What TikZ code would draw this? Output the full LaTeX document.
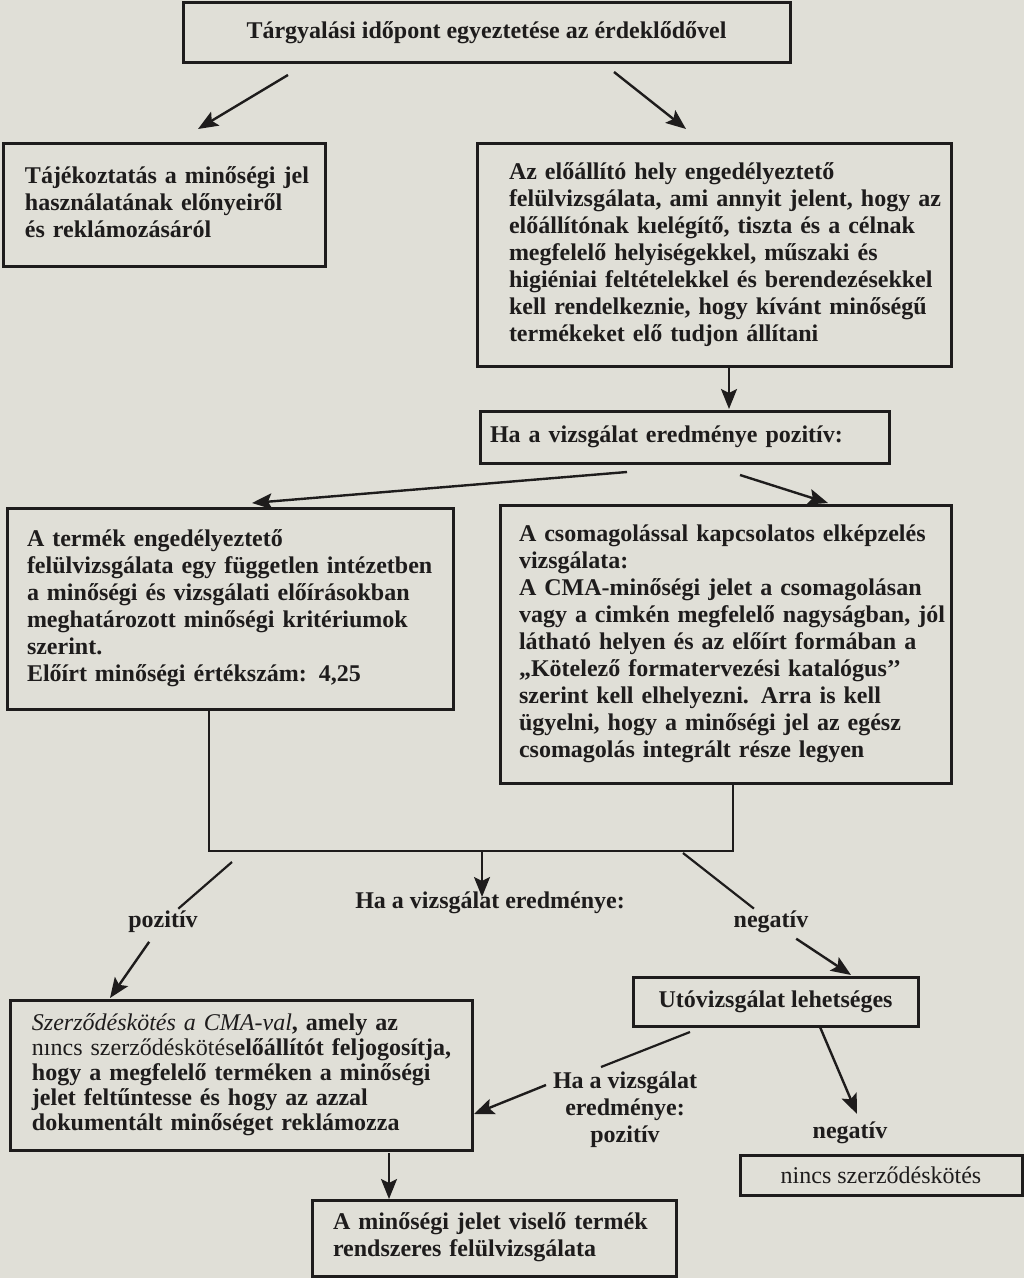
\documentclass[tikz,border=0pt]{standalone}
\usepackage{fontspec}
\setmainfont{Liberation Serif}
\usetikzlibrary{arrows.meta}
\definecolor{paper}{RGB}{224,223,215}
\definecolor{ink}{RGB}{30,28,28}
\newcommand\boxrows[1]{\noindent\begin{tabular}{@{}l@{}}#1\end{tabular}}
\begin{document}
\begin{tikzpicture}[x=0.5pt, y=-0.5pt, font=\fontsize{12}{13.5}\selectfont\bfseries,
  box/.style={draw=ink, text=ink, line width=1.5pt, anchor=north west, outer sep=0pt, inner ysep=0pt, align=left},
  cbox/.style={draw=ink, text=ink, line width=1.5pt, anchor=north west, outer sep=0pt, inner sep=0pt, align=center},
  lbl/.style={text=ink, inner sep=1pt, align=center},
  arr/.style={-{Stealth[length=10pt, width=8pt, inset=2pt]}, draw=ink, line width=1.2pt},
  ln/.style={-, draw=ink, line width=1.1pt}]
\fill[paper] (0,0) rectangle (1024,1278);
\useasboundingbox (0,0) rectangle (1024,1278);
\node[cbox, minimum width=303.5pt, minimum height=30pt] (top) at (183,3) {Tárgyalási időpont egyeztetése az érdeklődővel};
\node[box, minimum height=61.5pt, inner xsep=11pt, text width=139pt] (info) at (3,144) {\boxrows{Tájékoztatás a minőségi jel\\használatának előnyeiről\\és reklámozásáról}};
\node[box, minimum height=111pt, inner xsep=16pt, text width=205pt] (site) at (477,144) {\boxrows{Az előállító hely engedélyeztető\\felülvizsgálata, ami annyit jelent, hogy az\\előállítónak kıelégítő, tiszta és a célnak\\megfelelő helyiségekkel, műszaki és\\higiéniai feltételekkel és berendezésekkel\\kell rendelkeznie, hogy kívánt minőségű\\termékeket elő tudjon állítani}};
\node[box, minimum height=26pt, inner xsep=5pt, text width=194.5pt] (posbox) at (480,411) {\boxrows{Ha a vizsgálat eredménye pozitív:}};
\node[box, minimum height=100.5pt, inner xsep=10pt, text width=203pt] (prod) at (7,508) {\boxrows{A termék engedélyeztető\\felülvizsgálata egy független intézetben\\a minőségi és vizsgálati előírásokban\\meghatározott minőségi kritériumok\\szerint.\\Előírt minőségi értékszám: 4,25}};
\node[box, minimum height=139pt, inner xsep=9.5pt, text width=206.5pt] (pack) at (500,505) {\boxrows{A csomagolással kapcsolatos elképzelés\\vizsgálata:\\A CMA-minőségi jelet a csomagolásan\\vagy a cimkén megfelelő nagyságban, jól\\látható helyen és az előírt formában a\\„Kötelező formatervezési katalógus{'}{'}\\szerint kell elhelyezni. Arra is kell\\ügyelni, hogy a minőségi jel az egész\\csomagolás integrált része legyen}};
\node[lbl] (res1) at (490,903) {Ha a vizsgálat eredménye:};
\node[lbl] (pos1) at (163,922) {pozitív};
\node[lbl] (neg1) at (771,922) {negatív};
\node[cbox, minimum width=142.5pt, minimum height=24.5pt] (retest) at (633,977) {Utóvizsgálat lehetséges};
\node[box, minimum height=75pt, inner xsep=11pt, text width=209pt, font=\fontsize{12}{12.5}\selectfont\bfseries] (contract) at (10,1000) {\boxrows{{\mdseries\itshape Szerződéskötés a CMA-val}, amely az\\{\mdseries nıncs szerződéskötés}előállítót feljogosítja,\\hogy a megfelelő terméken a minőségi\\jelet feltűntesse és hogy az azzal\\dokumentált minőséget reklámozza}};
\node[lbl] (res2) at (625,1110) {Ha a vizsgálat\\eredménye:\\pozitív};
\node[lbl] (neg2) at (850,1133) {negatív};
\node[cbox, minimum width=141pt, minimum height=20pt] (none) at (740,1155) {{\mdseries nincs szerződéskötés}};
\node[box, minimum height=38pt, inner xsep=10.5pt, text width=161pt] (final) at (312,1200) {\boxrows{A minőségi jelet viselő termék\\rendszeres felülvizsgálata}};
% free ends of the connectors
\coordinate (t1) at (288,75); \coordinate (t2) at (198,129);
\coordinate (t3) at (614,72); \coordinate (t4) at (686,129);
\coordinate (s1) at (729,366); \coordinate (s2) at (729,409);
\coordinate (p1) at (627,472); \coordinate (p2) at (252,503);
\coordinate (p3) at (740,475); \coordinate (p4) at (828,503);
\coordinate (u1) at (209,709); \coordinate (u2) at (209,851);
\coordinate (u3) at (733,851); \coordinate (u4) at (733,783);
\coordinate (u5) at (482,851); \coordinate (u6) at (482,897);
\coordinate (l1) at (232,862); \coordinate (l2) at (110,998);
\coordinate (n1) at (683,853); \coordinate (n2) at (851,975);
\coordinate (r1) at (690,1032); \coordinate (r2) at (601,1067);
\coordinate (r3) at (546,1085); \coordinate (r4) at (474,1114);
\coordinate (r5) at (820,1027); \coordinate (r6) at (857,1114);
\coordinate (c1) at (389,1153); \coordinate (c2) at (389,1199);
\draw[arr] (t1) -- (t2);
\draw[arr] (t3) -- (t4);
\draw[arr] (s1) -- (s2);
\draw[arr] (p1) -- (p2);
\draw[arr] (p3) -- (p4);
\draw[ln] (u1) -- (u2) -- (u3) -- (u4);
\draw[arr] (u5) -- (u6);
\draw[ln] (l1) -- (pos1);
\draw[arr, shorten <=4pt] (pos1) -- (l2);
\draw[ln] (n1) -- (neg1);
\draw[arr, shorten <=3pt] (neg1) -- (n2);
\draw[ln] (r1) -- (r2);
\draw[arr] (r3) -- (r4);
\draw[arr] (r5) -- (r6);
\draw[arr] (c1) -- (c2);
\end{tikzpicture}
\end{document}
